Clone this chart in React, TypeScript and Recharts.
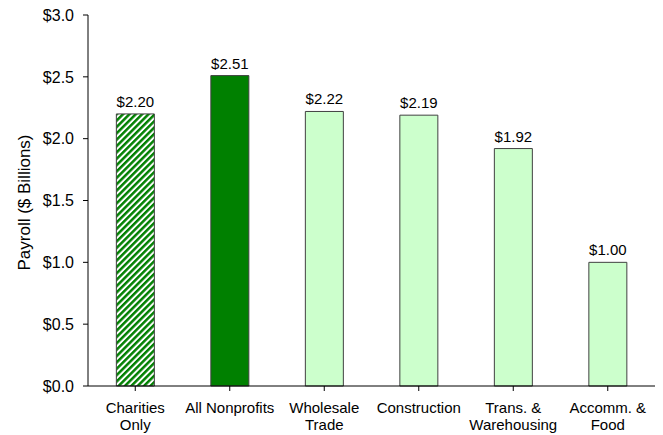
import React from "react";
import { BarChart, Bar, XAxis, YAxis, Cell, LabelList, Label } from "recharts";

const categories = [
  "Charities\nOnly",
  "All Nonprofits",
  "Wholesale\nTrade",
  "Construction",
  "Trans. &\nWarehousing",
  "Accomm. &\nFood",
];
const payroll = [2.2, 2.51, 2.22, 2.19, 1.92, 1.0];
const fills = ["url(#hatch)", "#008000", "#CCFFCC", "#CCFFCC", "#CCFFCC", "#CCFFCC"];
const yTicks = [0, 0.5, 1.0, 1.5, 2.0, 2.5, 3.0];

const data = categories.map((c, i) => ({ name: c, value: payroll[i] }));

const FONT = "'Liberation Sans', Arial, sans-serif";

const XTick = (props: any) => {
  const { x, y, payload } = props;
  const lines = String(payload.value).split("\n");
  return (
    <g transform={`translate(${x},${y})`}>
      {lines.map((l: string, i: number) => (
        <text key={i} x={0} y={0} dy={20 + i * 17} textAnchor="middle" fill="#000" fontSize={15} fontFamily={FONT}>
          {l}
        </text>
      ))}
    </g>
  );
};

export default function App() {
  return (
    <div style={{ position: "absolute", left: 0, top: 0, width: 663, height: 435, background: "#fff" }}>
      <BarChart
        width={663}
        height={435}
        data={data}
        margin={{ top: 15, right: 8, bottom: 0, left: 0 }}
        barCategoryGap="30%"
      >
        <defs>
          <pattern id="hatch" patternUnits="userSpaceOnUse" width="4.5" height="4.5" patternTransform="rotate(45)">
            <rect x="0" y="0" width="4.5" height="4.5" fill="#ffffff" />
            <rect x="0" y="0" width="2.5" height="4.5" fill="#008000" />
          </pattern>
        </defs>
        <XAxis
          dataKey="name"
          height={49}
          axisLine={{ stroke: "#000" }}
          tickLine={{ stroke: "#000" }}
          tickSize={5}
          tick={<XTick />}
          interval={0}
          scale="band"
        />
        <YAxis
          width={88}
          domain={[0, 3]}
          ticks={yTicks}
          tickFormatter={(v: number) => `$${v.toFixed(1)}`}
          axisLine={{ stroke: "#000" }}
          tickLine={{ stroke: "#000" }}
          tickSize={5}
          tickMargin={9}
          tick={{ fill: "#000", fontSize: 16, fontFamily: FONT }}
          interval={0}
        >
          <Label
            content={(p: any) => {
              const vb = p.viewBox;
              const cx = 24;
              const cy = vb.y + vb.height / 2 + 2;
              return (
                <text
                  x={cx}
                  y={cy}
                  transform={`rotate(-90, ${cx}, ${cy})`}
                  textAnchor="middle"
                  dominantBaseline="central"
                  fontSize={17}
                  fontFamily={FONT}
                  fill="#000"
                >
                  Payroll ($ Billions)
                </text>
              );
            }}
          />
        </YAxis>
        <Bar dataKey="value" isAnimationActive={false} stroke="#404040" strokeWidth={1}>
          {data.map((d, i) => (
            <Cell key={i} fill={fills[i]} />
          ))}
          <LabelList
            dataKey="value"
            position="top"
            offset={7}
            formatter={(v: any) => `$${Number(v).toFixed(2)}`}
            style={{ fill: "#000", fontSize: 15, fontFamily: FONT }}
          />
        </Bar>
      </BarChart>
    </div>
  );
}
